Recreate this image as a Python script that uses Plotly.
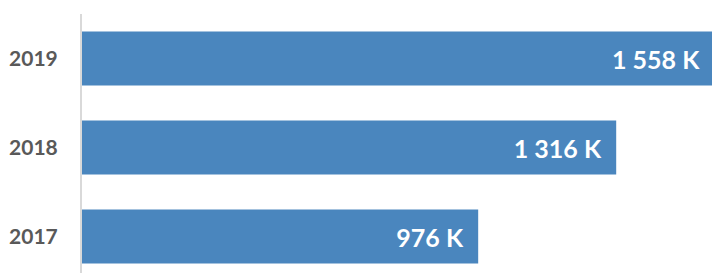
import plotly.graph_objects as go

years = ["2017", "2018", "2019"]
values = [976, 1316, 1558]

fig = go.Figure(go.Bar(
    y=years, x=values, orientation="h",
    marker=dict(color="#4a86be", line=dict(width=0)),
    texttemplate="%{x:,.0f} K&nbsp;&nbsp;",
    textposition="inside", insidetextanchor="end",
    textfont=dict(family="Lato", size=25, color="white", weight="bold"),
    cliponaxis=True,
    hoverinfo="skip",
))

fig.update_layout(
    width=712, height=273,
    margin=dict(l=82, r=0, t=14, b=0),
    plot_bgcolor="white", paper_bgcolor="white",
    separators=". ",
    bargap=0.393,
    showlegend=False,
    xaxis=dict(range=[0, 1552], visible=False, fixedrange=True),
    yaxis=dict(range=[-0.41, 2.5], showline=True, linecolor="#d9d9d9", linewidth=2,
               ticks="", showgrid=False, zeroline=False, ticklabelstandoff=18,
               fixedrange=True,
               tickfont=dict(family="Lato", size=21, color="#595959", weight="bold")),
)

fig.write_html("out.html", config={"displayModeBar": False},
               post_script="document.body.style.margin='0';document.body.style.overflow='hidden';")
